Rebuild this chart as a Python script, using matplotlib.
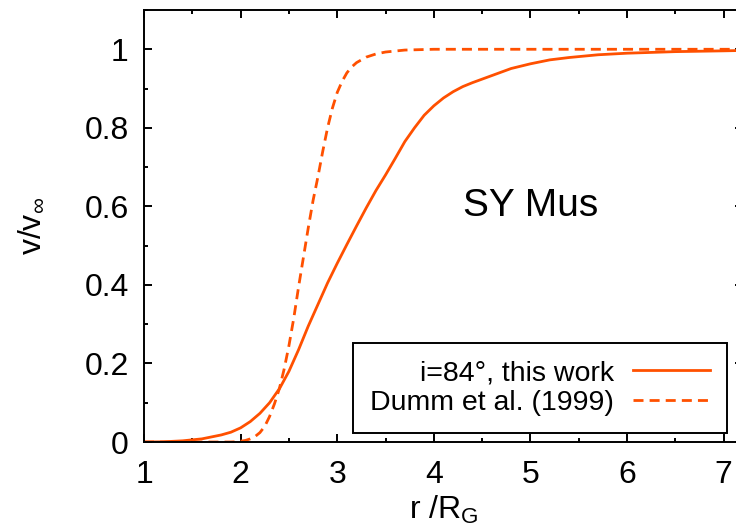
import matplotlib
matplotlib.use("Agg")
import matplotlib.pyplot as plt
from matplotlib.ticker import MultipleLocator

plt.rcParams["font.family"] = ["Liberation Sans", "DejaVu Sans"]
plt.rcParams["mathtext.fontset"] = "custom"
plt.rcParams["mathtext.rm"] = "Liberation Sans"
plt.rcParams["mathtext.it"] = "Liberation Sans"

# curve: this work, i=84 deg
r_work = [1.0, 1.2, 1.4, 1.6, 1.8, 1.9, 2.0, 2.1, 2.2, 2.3, 2.405, 2.5, 2.6, 2.7,
          2.8, 2.9, 3.0, 3.1, 3.2, 3.3, 3.4, 3.5, 3.6, 3.7, 3.8, 3.9, 4.0, 4.1,
          4.2, 4.3, 4.4, 4.6, 4.8, 5.0, 5.2, 5.4, 5.7, 6.0, 6.5, 7.0, 7.2]
v_work = [0.0, 0.0005, 0.003, 0.008, 0.018, 0.025, 0.036, 0.052, 0.073, 0.10, 0.137,
          0.18, 0.235, 0.295, 0.35, 0.405, 0.455, 0.503, 0.55, 0.596, 0.64, 0.68,
          0.722, 0.765, 0.80, 0.832, 0.856, 0.876, 0.892, 0.905, 0.915, 0.933,
          0.951, 0.963, 0.973, 0.979, 0.986, 0.99, 0.994, 0.996, 0.997]

# Dumm et al. (1999)
r_dumm = [1.0, 1.9, 1.95, 2.0, 2.05, 2.1, 2.15, 2.2, 2.25, 2.3, 2.35, 2.4, 2.45,
          2.5, 2.55, 2.6, 2.65, 2.7, 2.75, 2.8, 2.85, 2.9, 2.95, 3.0, 3.05, 3.1,
          3.15, 3.2, 3.3, 3.4, 3.5, 3.7, 4.0, 7.2]
v_dumm = [0.0, 0.0, 0.0005, 0.002, 0.004, 0.008, 0.014, 0.024, 0.04, 0.065, 0.097,
          0.135, 0.185, 0.245, 0.315, 0.395, 0.47, 0.545, 0.615, 0.675, 0.74, 0.80,
          0.85, 0.89, 0.918, 0.94, 0.955, 0.966, 0.98, 0.988, 0.993, 0.998, 1.0, 1.0]

color = "#ff5000"

fig = plt.figure(figsize=(7.36, 5.27), dpi=100)
ax = fig.add_axes([144 / 736, 85 / 527, 599 / 736, 432 / 527])

ax.plot(r_work, v_work, color=color, lw=2, label="i=84°, this work")
ax.plot(r_dumm, v_dumm, color=color, lw=2, dashes=(3.6, 2.2), label="Dumm et al. (1999)")

ax.set_xlim(1, 7.2)
ax.set_ylim(0, 1.1)
ax.xaxis.set_major_locator(MultipleLocator(1))
ax.xaxis.set_minor_locator(MultipleLocator(0.5))
ax.yaxis.set_minor_locator(MultipleLocator(0.1))
ax.set_yticks([0, 0.2, 0.4, 0.6, 0.8, 1.0])
ax.set_yticklabels(["0", "0.2", "0.4", "0.6", "0.8", "1"])

ax.tick_params(which="both", direction="in", top=True, right=True, width=1.4,
               labelsize=23)
ax.tick_params(axis="x", pad=13)
ax.tick_params(axis="y", pad=11)
ax.tick_params(which="major", length=6)
ax.tick_params(which="minor", length=3)
for sp in ax.spines.values():
    sp.set_linewidth(1.4)

ax.set_xlabel(r"r /R$_\mathregular{G}$", fontsize=23, labelpad=3)
ax.set_ylabel(r"v/v$_\infty$", fontsize=23, labelpad=27)

ax.text(5.0, 0.6, "SY Mus", fontsize=28, ha="center", va="center")

leg = ax.legend(loc="lower right", bbox_to_anchor=(0.973, 0.021), borderaxespad=0,
                markerfirst=False, fontsize=20.5, handlelength=2.7, handletextpad=0.65,
                labelspacing=0.12, borderpad=0.6, fancybox=False, framealpha=1,
                edgecolor="black")
leg.get_frame().set_linewidth(1.4)

fig.savefig("out.png", dpi=100)
